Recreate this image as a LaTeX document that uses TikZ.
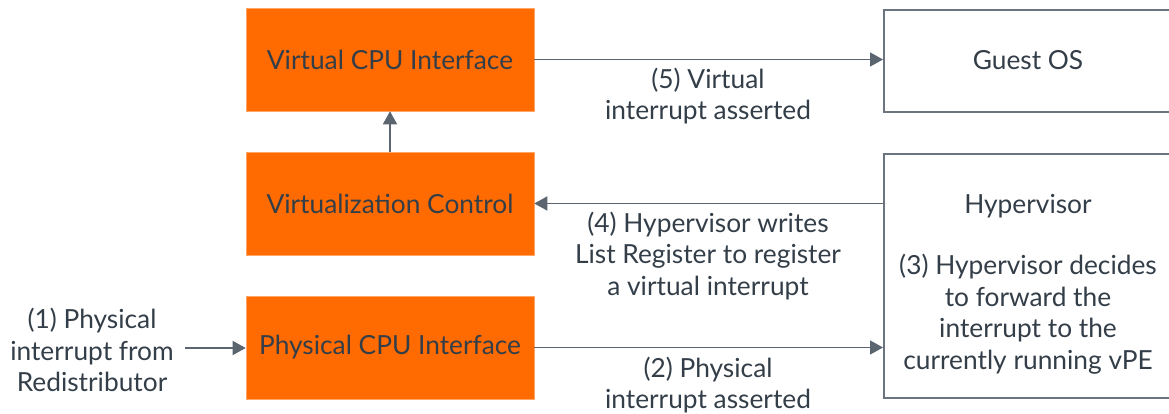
\documentclass[tikz,border=0pt]{standalone}
\usepackage{fontspec}
\setmainfont{Lato}
\usetikzlibrary{arrows.meta,positioning}
\definecolor{armorange}{HTML}{FF6B00}
\definecolor{inktext}{HTML}{333E48}
\definecolor{wire}{HTML}{5A6570}
\definecolor{frame}{HTML}{6B7580}
\tikzset{
  bodyfont/.style={font=\fontsize{26.3}{31.5}\selectfont},
  blockbox/.style={fill=armorange,draw=armorange!60!white,line width=0.6pt,minimum width=288pt,minimum height=103pt,inner sep=0pt,text=inktext,bodyfont},
  plainbox/.style={draw=frame,line width=2pt,fill=white,inner sep=0pt},
  caption/.style={text=inktext,bodyfont,align=center,inner sep=0pt},
  link/.style={draw=wire,line width=1.6pt,-{Triangle[length=13pt,width=14pt]}},
}
\begin{document}
\begin{tikzpicture}[x=1pt,y=-1pt]
\useasboundingbox (0,0) rectangle (1169,414);
\begin{scope}
\clip (0,0) rectangle (1169,414);
% orange interface blocks
\node[blockbox] (vcpu) at (390,59.5) {Virtual CPU Interface};
\node[blockbox] (vctl) at (390,203.5) {Virtualization Control};
\node[blockbox] (pcpu) at (390,347.5) {Physical CPU Interface};
% software boxes on the right
\node[plainbox,minimum width=290pt,minimum height=102pt,anchor=north west] (guest) at (883,9) {};
\node[caption] (guestlbl) at (1028,60) {Guest OS};
\node[plainbox,minimum width=290pt,minimum height=244pt,anchor=north west] (hyp) at (883,153) {};
\node[caption] (hyplbl) at (1028,206) {Hypervisor};
\node[caption] (hypnote) at (1028,314) {(3) Hypervisor decides\\to forward the\\interrupt to the\\currently running vPE};
\end{scope}
% incoming interrupt
\node[caption] (src) at (92,350) {(1) Physical\\interrupt from\\Redistributor};
\coordinate (srcend) at (185,348);
% connectors
\draw[link] (srcend) -- (pcpu.west |- srcend);
\draw[link] (pcpu.east) -- (pcpu.east -| hyp.west);
\draw[link] (hyp.west |- vctl.east) -- (vctl.east);
\draw[link] (vctl.north) -- (vcpu.south);
\draw[link] (vcpu.east) -- (vcpu.east -| guest.west);
% connector captions
\node[caption] (c5) at (708,96) {(5) Virtual\\interrupt asserted};
\node[caption] (c4) at (708,256) {(4) Hypervisor writes\\List Register to register\\a virtual interrupt};
\node[caption] (c2) at (708,385) {(2) Physical\\interrupt asserted};
\end{tikzpicture}
\end{document}
